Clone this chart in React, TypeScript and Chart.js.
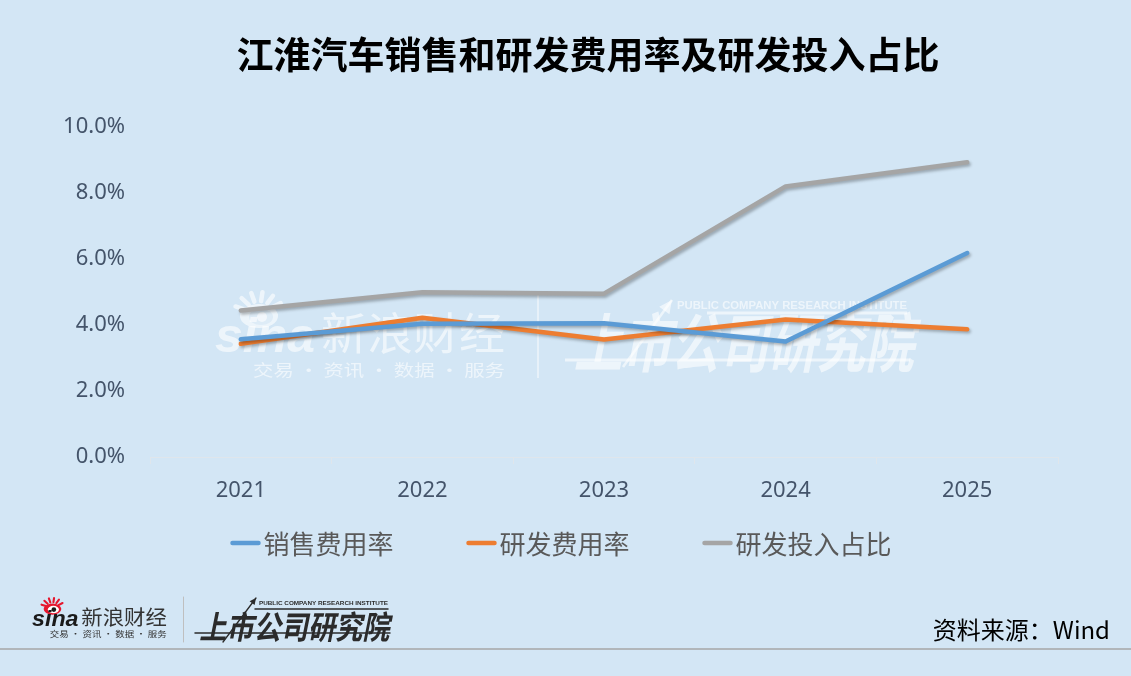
import React, { useEffect, useRef } from "react";
import { Chart, registerables } from "chart.js";

Chart.register(...registerables);

// ---- data ----
const years = ["2021", "2022", "2023", "2024", "2025"];
const salesExpenseRate = [3.57, 4.04, 4.05, 3.5, 6.18];
const rdExpenseRate = [3.43, 4.22, 3.56, 4.17, 3.87];
const rdInvestmentRatio = [4.44, 4.99, 4.95, 8.2, 8.93];
const seriesNames = ["销售费用率", "研发费用率", "研发投入占比"];
const seriesColors = ["#5b9bd5", "#ed7d31", "#a5a5a5"];
const yTickValues = [0, 2, 4, 6, 8, 10];
const titleText = "江淮汽车销售和研发费用率及研发投入占比";
const sourceText = "资料来源：Wind";

const BG = "#d3e6f5";
const CJK = "'Noto Sans CJK SC', 'Noto Sans', sans-serif";
const TICK_COLOR = "#44546a";

function fillStretched(ctx: CanvasRenderingContext2D, text: string, x: number, y: number, w: number) {
  const m = ctx.measureText(text).width;
  ctx.save();
  ctx.translate(x, y);
  ctx.scale(w / m, 1);
  ctx.fillText(text, 0, 0);
  ctx.restore();
}

function drawSina(ctx: CanvasRenderingContext2D, ox: number, oy: number, s: number, white: boolean) {
  ctx.save();
  ctx.translate(ox, oy);
  ctx.scale(s, s);
  const red = white ? "#ffffff" : "#e6162d";
  const dark = white ? "#ffffff" : "#1a1a1a";
  const text = white ? "#ffffff" : "#333333";
  // eye rays
  ctx.strokeStyle = red;
  ctx.lineCap = "round";
  ctx.lineWidth = 4.5;
  const cx = 44, cy = 24;
  for (let i = 0; i < 6; i++) {
    const a = (-160 + i * 26) * Math.PI / 180;
    ctx.beginPath();
    ctx.moveTo(cx + Math.cos(a) * 15, cy + Math.sin(a) * 13);
    ctx.lineTo(cx + Math.cos(a) * 25, cy + Math.sin(a) * 22);
    ctx.stroke();
  }
  // eye
  ctx.fillStyle = red;
  ctx.beginPath();
  ctx.ellipse(cx, cy + 2, 19, 12, 0, 0, Math.PI * 2);
  ctx.fill();
  ctx.fillStyle = white ? BG : "#ffffff";
  ctx.beginPath();
  ctx.ellipse(cx + 2, cy + 3, 12, 8, 0, 0, Math.PI * 2);
  ctx.fill();
  ctx.fillStyle = dark;
  ctx.beginPath();
  ctx.arc(cx + 3, cy + 3, 5, 0, Math.PI * 2);
  ctx.fill();
  // sina
  ctx.fillStyle = dark;
  ctx.textBaseline = "alphabetic";
  ctx.textAlign = "left";
  ctx.font = "bold italic 48px 'Liberation Sans', sans-serif";
  fillStretched(ctx, "sina", 0, 62, 100);
  // 新浪财经
  ctx.fillStyle = text;
  ctx.font = `44px ${CJK}`;
  fillStretched(ctx, "新浪财经", 106, 60, 184);
  // slogan
  ctx.font = `16px ${CJK}`;
  fillStretched(ctx, "交易 · 资讯 · 数据 · 服务", 38, 86, 252);
  ctx.restore();
}

type Inst = {
  x: number; y: number; w: number; h: number;
  pubX: number; pubY: number; pubW: number; pubSize: number;
  topLine: [number, number, number]; baseLine: [number, number, number];
  arrow: [number, number, number, number];
  color: string;
};

function drawInstitute(ctx: CanvasRenderingContext2D, o: Inst) {
  ctx.save();
  ctx.fillStyle = o.color;
  ctx.strokeStyle = o.color;
  const F = o.h / 0.9;
  ctx.font = `bold ${F}px ${CJK}`;
  ctx.textBaseline = "alphabetic";
  ctx.textAlign = "left";
  const m = ctx.measureText("上市公司研究院").width;
  ctx.save();
  ctx.translate(o.x + o.h * 0.15, o.y + 0.83 * F);
  ctx.transform(1, 0, -0.2, 1, 0, 0);
  ctx.scale(o.w / m, 1);
  ctx.fillText("上市公司研究院", 0, 0);
  ctx.restore();
  // lines
  ctx.lineWidth = Math.max(1, o.h * 0.05);
  ctx.beginPath();
  ctx.moveTo(o.topLine[0], o.topLine[2]);
  ctx.lineTo(o.topLine[1], o.topLine[2]);
  ctx.stroke();
  ctx.beginPath();
  ctx.moveTo(o.baseLine[0], o.baseLine[2]);
  ctx.lineTo(o.baseLine[1], o.baseLine[2]);
  ctx.stroke();
  // arrow
  const [x1, y1, x2, y2] = o.arrow;
  ctx.lineWidth = Math.max(1, o.h * 0.045);
  ctx.beginPath();
  ctx.moveTo(x1, y1);
  ctx.lineTo(x2, y2);
  ctx.stroke();
  const ang = Math.atan2(y2 - y1, x2 - x1);
  const L = o.h * 0.25;
  ctx.beginPath();
  ctx.moveTo(x2, y2);
  ctx.lineTo(x2 - L * Math.cos(ang - 0.45), y2 - L * Math.sin(ang - 0.45));
  ctx.lineTo(x2 - L * Math.cos(ang + 0.45), y2 - L * Math.sin(ang + 0.45));
  ctx.closePath();
  ctx.fill();
  // PUBLIC text
  ctx.font = `bold ${o.pubSize}px 'Liberation Sans', sans-serif`;
  ctx.textBaseline = "middle";
  fillStretched(ctx, "PUBLIC COMPANY RESEARCH INSTITUTE", o.pubX, o.pubY, o.pubW);
  ctx.restore();
}

const decorPlugin = {
  id: "decor",
  beforeDraw(chart: any) {
    const { ctx, width, height } = chart;
    ctx.save();
    ctx.fillStyle = BG;
    ctx.fillRect(0, 0, width, height);
    ctx.restore();
  },
  beforeDatasetsDraw(chart: any) {
    const ctx: CanvasRenderingContext2D = chart.ctx;
    ctx.save();
    ctx.globalAlpha = 0.6;
    drawSina(ctx, 215, 290, 1, true);
    ctx.strokeStyle = "#ffffff";
    ctx.lineWidth = 1.5;
    ctx.beginPath();
    ctx.moveTo(538, 295);
    ctx.lineTo(538, 378);
    ctx.stroke();
    drawInstitute(ctx, {
      x: 565, y: 314, w: 340, h: 58,
      pubX: 677, pubY: 306, pubW: 230, pubSize: 11,
      topLine: [707, 907, 313], baseLine: [565, 910, 360],
      arrow: [623, 367, 672, 300],
      color: "#ffffff",
    });
    ctx.restore();
  },
  beforeDatasetDraw(chart: any) {
    const ctx = chart.ctx;
    ctx.save();
    ctx.shadowColor = "rgba(0,0,0,0.28)";
    ctx.shadowBlur = 3;
    ctx.shadowOffsetX = 1.5;
    ctx.shadowOffsetY = 2;
  },
  afterDatasetDraw(chart: any) {
    chart.ctx.restore();
  },
  afterDraw(chart: any) {
    const ctx: CanvasRenderingContext2D = chart.ctx;
    ctx.save();
    // title
    ctx.fillStyle = "#000000";
    ctx.font = `bold 37px ${CJK}`;
    ctx.textAlign = "center";
    ctx.textBaseline = "middle";
    ctx.fillText(titleText, 588, 55);

    // legend
    ctx.font = `26px ${CJK}`;
    ctx.textAlign = "left";
    const items = chart.data.datasets.map((ds: any) => ({
      label: ds.label as string,
      color: ds.borderColor as string,
      w: ctx.measureText(ds.label).width,
    }));
    const lineW = 30, gap = 3, itemGap = 73;
    const total = items.reduce((a: number, it: any) => a + lineW + gap + it.w, 0) + itemGap * (items.length - 1);
    let x = 561 - total / 2;
    const ly = 543;
    for (const it of items) {
      ctx.strokeStyle = it.color;
      ctx.lineWidth = 4.5;
      ctx.lineCap = "round";
      ctx.beginPath();
      ctx.moveTo(x + 2, ly);
      ctx.lineTo(x + lineW - 2, ly);
      ctx.stroke();
      ctx.fillStyle = "#595959";
      ctx.fillText(it.label, x + lineW + gap, ly + 1);
      x += lineW + gap + it.w + itemGap;
    }

    // footer separator
    ctx.strokeStyle = "#a6a6a6";
    ctx.lineWidth = 1.5;
    ctx.beginPath();
    ctx.moveTo(0, 649);
    ctx.lineTo(1131, 649);
    ctx.stroke();

    // source
    ctx.fillStyle = "#000000";
    ctx.font = `24px ${CJK}`;
    ctx.textAlign = "right";
    ctx.textBaseline = "middle";
    ctx.fillText(sourceText, 1110, 630);

    // footer logos
    drawSina(ctx, 32, 597, 0.465, false);
    ctx.strokeStyle = "#bfbfbf";
    ctx.lineWidth = 1;
    ctx.beginPath();
    ctx.moveTo(183.5, 597);
    ctx.lineTo(183.5, 642);
    ctx.stroke();
    drawInstitute(ctx, {
      x: 195, y: 612, w: 190, h: 29,
      pubX: 259, pubY: 603, pubW: 129, pubSize: 6,
      topLine: [255, 388, 609], baseLine: [195, 390, 633],
      arrow: [223, 642, 256, 598],
      color: "#2b2b2b",
    });
    ctx.restore();
  },
};

export default function App() {
  const ref = useRef<HTMLCanvasElement>(null);
  useEffect(() => {
    const series = [salesExpenseRate, rdExpenseRate, rdInvestmentRatio];
    const chart = new Chart(ref.current as HTMLCanvasElement, {
      type: "line",
      data: {
        labels: years,
        datasets: series.map((d, i) => ({
          label: seriesNames[i],
          data: d,
          borderColor: seriesColors[i],
          backgroundColor: seriesColors[i],
          borderWidth: 4.5,
          pointRadius: 0,
          pointHoverRadius: 0,
          borderCapStyle: "round" as const,
          borderJoinStyle: "round" as const,
          tension: 0,
          fill: false,
        })),
      },
      options: {
        responsive: false,
        devicePixelRatio: 1,
        animation: false,
        events: [],
        layout: { padding: { left: 0, right: 73, top: 127, bottom: 159 } },
        plugins: {
          legend: { display: false },
          title: { display: false },
          tooltip: { enabled: false },
        },
        scales: {
          x: {
            offset: true,
            grid: {
              offset: true,
              display: true,
              drawOnChartArea: false,
              drawTicks: true,
              tickLength: 7,
              color: "#dfe6ec",
              lineWidth: 1,
            },
            border: { display: true, color: "#dfe6ec", width: 1 },
            ticks: {
              color: TICK_COLOR,
              font: { family: "'Noto Sans', sans-serif", size: 22 },
              padding: 14,
              maxRotation: 0,
            },
            afterFit: (s: any) => { s.height = 60; },
          },
          y: {
            min: 0,
            max: 10,
            grid: { display: false, drawTicks: false },
            border: { display: false },
            afterBuildTicks: (s: any) => { s.ticks = yTickValues.map((v) => ({ value: v })); },
            ticks: {
              color: TICK_COLOR,
              font: { family: "'Noto Sans', sans-serif", size: 22 },
              padding: 25,
              callback: (v: any) => Number(v).toFixed(1) + "%",
            },
            afterFit: (s: any) => { s.width = 150; },
          },
        },
      },
      plugins: [decorPlugin],
    } as any);
    return () => chart.destroy();
  }, []);
  return (
    <div style={{ position: "fixed", left: 0, top: 0, width: 1131, height: 676, background: BG }}>
      <canvas ref={ref} width={1131} height={676} style={{ display: "block", width: 1131, height: 676 }} />
    </div>
  );
}
